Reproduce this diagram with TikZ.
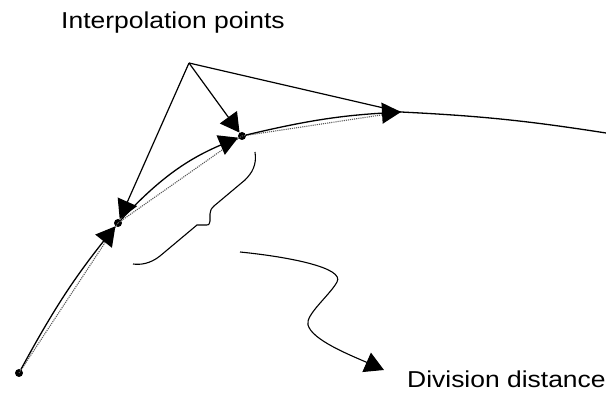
\documentclass[tikz,border=0pt]{standalone}
\usepackage{fontspec}
\setmainfont{Liberation Sans}
\usetikzlibrary{arrows.meta}
\tikzset{
  curveline/.style={line width=1.3pt, black},
  chord/.style={line width=1.1pt, black!65, densely dotted},
  pointer/.style={line width=1.2pt, black},
  tip/.style={-{Triangle[length=19pt,width=21pt]}},
  dot/.style={circle, fill=black, inner sep=0pt, minimum size=8pt},
  label/.style={inner sep=0pt, font=\fontsize{23}{27}\selectfont},
  thinline/.style={line width=1.1pt, black},
}
\begin{document}
\begin{tikzpicture}[x=1pt, y=-1pt]
\useasboundingbox (0,0) rectangle (606,395);
% points
\node[dot] (P0) at (19,373) {};
\node[dot] (P1) at (118,223) {};
\node[dot] (P2) at (242,136) {};
\coordinate (P3) at (401,112);
\coordinate (E) at (606,133);
\coordinate (A) at (189,63);
% labels
\node[label, anchor=base west] (title) at (61,29) {\scalebox{1.15}[1]{Interpolation points}};
\node[label, anchor=base west] (div) at (407,388) {\scalebox{1.15}[1]{Division distance}};
% dotted chords
\draw[chord] (P0.center) -- (P1.center);
\draw[chord] (P1.center) -- (P2.center);
\draw[chord] (P2.center) -- (P3);
% curve segments
\draw[curveline, tip] (P0) to[bend left=5] (P1);
\draw[curveline, tip] (P1) to[bend left=12] (P2);
\draw[curveline, tip] (P2) to[bend left=5] (P3);
\draw[curveline] (P3) to[bend left=3] (E);
% pointers from apex
\draw[pointer, tip] (A) -- (P1);
\draw[pointer, tip] (A) -- (P2);
\draw[pointer] (A) -- (P3);
% brace
\draw[thinline] (255,152) .. controls (257,165) and (252,173) .. (245,180)
  -- (214,206) .. controls (211,209) .. (210,214) -- (210,221)
  .. controls (209,225) .. (205,225) -- (197,225) -- (160,256)
  .. controls (150,264) and (140,265) .. (133,264);
% wavy connector to label
\coordinate (W) at (240,252);
\coordinate (T) at (384,370);
\draw[thinline, tip] (W) .. controls (290,257) and (345,268) .. (337,282)
  .. controls (330,295) and (305,315) .. (308,325)
  .. controls (312,340) and (350,355) .. (T);
\end{tikzpicture}
\end{document}
